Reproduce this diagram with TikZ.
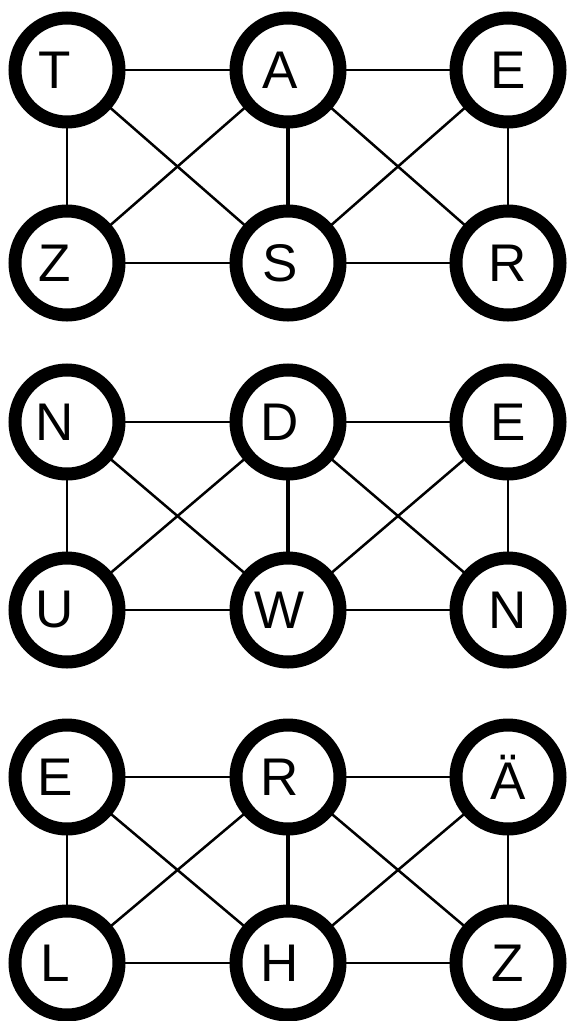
\documentclass[tikz,border=0pt]{standalone}
\usepackage{fontspec}
\setmainfont{Liberation Sans}
\usetikzlibrary{backgrounds}
\newcommand\shl[2]{\makebox[0pt]{#2}\hspace*{#1}}
\begin{document}
\begin{tikzpicture}[x=1pt,y=-1pt,
  vtx/.style={circle,draw=black,line width=13pt,fill=white,minimum size=104pt,inner sep=0pt,font=\fontsize{53}{53}\selectfont},
  edge/.style={line width=2.5pt},
  midedge/.style={line width=4pt}]
\useasboundingbox (0,0) rectangle (570,1021);
% graph 1
\node[vtx] (t) at (67,70) {\shl{24pt}{T}};
\node[vtx] (a) at (288,70) {\shl{16pt}{A}};
\node[vtx] (e1) at (508,70) {E};
\node[vtx] (z1) at (67,263) {\shl{24pt}{Z}};
\node[vtx] (s) at (288,263) {\shl{16pt}{S}};
\node[vtx] (r1) at (508,263) {R};
% graph 2
\node[vtx] (n1) at (67,422) {\shl{24pt}{N}};
\node[vtx] (d) at (288,422) {\shl{16pt}{D}};
\node[vtx] (e2) at (508,422) {E};
\node[vtx] (u) at (67,610) {\shl{24pt}{U}};
\node[vtx] (w) at (288,610) {\shl{16pt}{W}};
\node[vtx] (n2) at (508,610) {N};
% graph 3
\node[vtx] (e3) at (67,777) {\shl{24pt}{E}};
\node[vtx] (r3) at (288,777) {\shl{16pt}{R}};
\node[vtx] (ae) at (508,777) {Ä};
\node[vtx] (l) at (67,963) {\shl{24pt}{L}};
\node[vtx] (h) at (288,963) {\shl{16pt}{H}};
\node[vtx] (z3) at (508,963) {Z};
\begin{scope}[on background layer]
\foreach \p/\q/\r/\u/\v/\w in {t/a/e1/z1/s/r1, n1/d/e2/u/w/n2, e3/r3/ae/l/h/z3}{
  \draw[edge] (\p.center) -- (\q.center);
  \draw[edge] (\q.center) -- (\r.center);
  \draw[edge] (\u.center) -- (\v.center);
  \draw[edge] (\v.center) -- (\w.center);
  \draw[edge] (\p.center) -- (\u.center);
  \draw[edge] (\r.center) -- (\w.center);
  \draw[midedge] (\q.center) -- (\v.center);
  \draw[edge] (\p.center) -- (\v.center);
  \draw[edge] (\u.center) -- (\q.center);
  \draw[edge] (\q.center) -- (\w.center);
  \draw[edge] (\v.center) -- (\r.center);
}
\end{scope}
\end{tikzpicture}
\end{document}
